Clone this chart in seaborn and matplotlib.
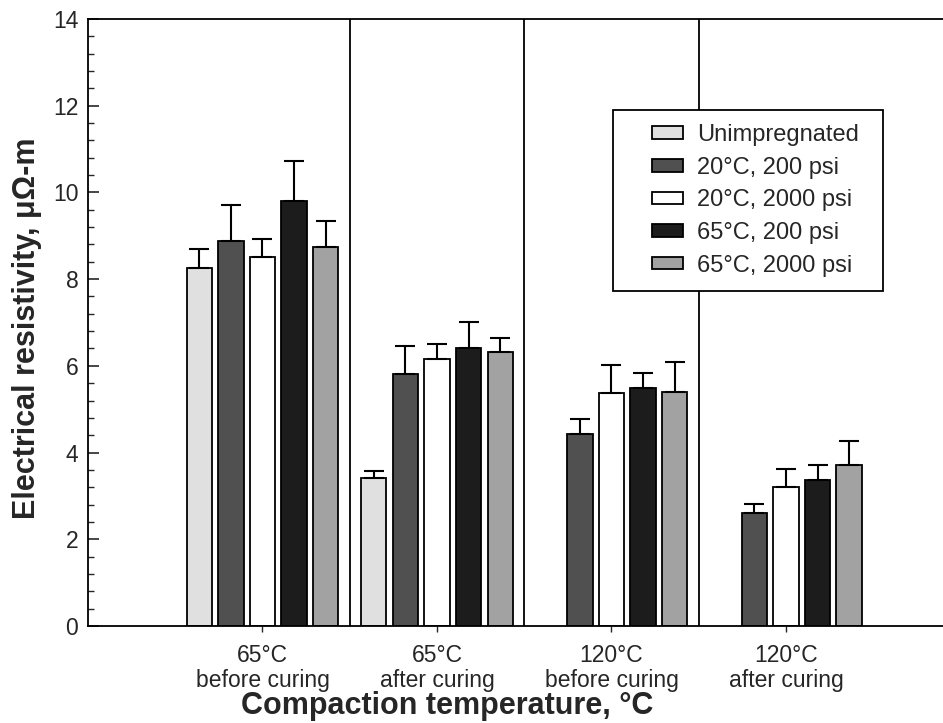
import numpy as np
import pandas as pd
import matplotlib
matplotlib.use("Agg")
import matplotlib.pyplot as plt
import seaborn as sns
from matplotlib.ticker import MultipleLocator
from matplotlib.patches import Rectangle
from matplotlib.legend_handler import HandlerPatch

# data
categories = ["65°C\nbefore curing", "65°C\nafter curing",
              "120°C\nbefore curing", "120°C\nafter curing"]
conditions = ["Unimpregnated", "20°C, 200 psi", "20°C, 2000 psi",
              "65°C, 200 psi", "65°C, 2000 psi"]

unimpregnated = [8.26, 3.42, np.nan, np.nan]
c20_200 = [8.88, 5.81, 4.44, 2.60]
c20_2000 = [8.51, 6.15, 5.37, 3.20]
c65_200 = [9.80, 6.40, 5.48, 3.37]
c65_2000 = [8.74, 6.31, 5.40, 3.71]

err_unimpregnated = [0.43, 0.15, np.nan, np.nan]
err_20_200 = [0.83, 0.65, 0.33, 0.21]
err_20_2000 = [0.42, 0.35, 0.65, 0.42]
err_65_200 = [0.92, 0.62, 0.35, 0.34]
err_65_2000 = [0.60, 0.33, 0.69, 0.56]

values = [unimpregnated, c20_200, c20_2000, c65_200, c65_2000]
errors = [err_unimpregnated, err_20_200, err_20_2000, err_65_200, err_65_2000]

rows = []
for cond, vals in zip(conditions, values):
    for cat, v in zip(categories, vals):
        if not np.isnan(v):
            rows.append({"category": cat, "condition": cond, "value": v})
df = pd.DataFrame(rows)

colors = {"Unimpregnated": "#e0e0e0", "20°C, 200 psi": "#505050",
          "20°C, 2000 psi": "#ffffff", "65°C, 200 psi": "#1c1c1c",
          "65°C, 2000 psi": "#a2a2a2"}

sns.set_style("ticks")
plt.rcParams["font.family"] = ["Liberation Sans", "DejaVu Sans"]

fig = plt.figure(figsize=(9.43, 7.23), dpi=100)
ax = fig.add_axes([0.0933, 0.134, 0.9067, 0.84])

sns.barplot(data=df, x="category", y="value", hue="condition",
            order=categories, hue_order=conditions, palette=colors,
            errorbar=None, width=0.905, gap=0.2,
            edgecolor="black", linewidth=1.3, ax=ax)

# one-sided error bars, taken from the drawn bars
bar_conts = list(ax.containers)
for i, cont in enumerate(bar_conts):
    for bar in cont.patches:
        h = bar.get_height()
        if np.isnan(h):
            continue
        xc = bar.get_x() + bar.get_width() / 2
        k = int(round(xc))
        ax.errorbar(xc, h, yerr=[[0], [errors[i][k]]], fmt="none",
                    ecolor="black", elinewidth=1.5, capsize=7, capthick=1.5)

# group separators
for s in [0.5, 1.5, 2.5]:
    ax.axvline(s, color="black", lw=1.3, zorder=0)

ax.set_xlim(-1, 3.9)
ax.set_ylim(0, 14)
ax.yaxis.set_major_locator(MultipleLocator(2))
ax.yaxis.set_minor_locator(MultipleLocator(0.4))
ax.tick_params(axis="y", which="major", direction="in", length=8, width=1.2,
               labelsize=16.5, pad=7)
ax.tick_params(axis="y", which="minor", direction="in", length=4, width=1)
ax.tick_params(axis="x", direction="out", length=4, width=1, labelsize=16.5,
               pad=9)
for lab in ax.get_xticklabels():
    lab.set_linespacing(1.1)

for side in ["left", "bottom", "top"]:
    ax.spines[side].set_linewidth(1.3)
    ax.spines[side].set_color("black")
ax.spines["right"].set_visible(False)

ax.set_ylabel("Electrical resistivity, μΩ-m", fontsize=22, fontweight="bold")
ax.yaxis.set_label_coords(-0.054, 0.49)
ax.set_xlabel("Compaction temperature, °C", fontsize=22, fontweight="bold")
ax.xaxis.set_label_coords(0.42, -0.107)


# legend swatch sits at the right end of a wider handle slot
def swatch(legend, orig_handle, xdescent, ydescent, width, height, fontsize):
    w = 1.3 * fontsize
    return Rectangle((-xdescent + width - w, -ydescent), w, height)


handles, labels = ax.get_legend_handles_labels()
leg = ax.legend(handles, labels, loc="upper left",
                bbox_to_anchor=(0.614, 0.55, 0.316, 0.30), mode="expand",
                borderaxespad=0, fontsize=17, frameon=True, fancybox=False,
                edgecolor="black", framealpha=1, handlelength=2.35,
                handleheight=0.45, labelspacing=0.45, borderpad=0.6,
                handletextpad=0.6,
                handler_map={Rectangle: HandlerPatch(patch_func=swatch)})
leg.get_frame().set_linewidth(1.3)

fig.savefig("out.png", dpi=100)
